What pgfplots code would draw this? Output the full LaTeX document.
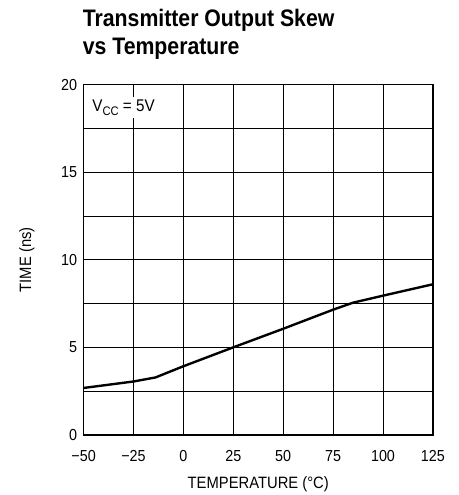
\documentclass[border=0pt]{standalone}
\usepackage{fontspec}
\setmainfont{Liberation Sans}[FakeStretch=0.9]
\newfontfamily\titlefont{Liberation Sans}[FakeStretch=0.89]
\usepackage{pgfplots}
\pgfplotsset{compat=1.18}
\begin{document}
\begin{tikzpicture}
\begin{axis}[name=ax,
  scale only axis, width=351bp, height=352bp,
  xmin=-50, xmax=125, ymin=0, ymax=20,
  xtick={-50,-25,...,125}, ytick={0,5,...,20},
  xticklabels={−50,−25,0,25,50,75,100,125},
  minor ytick={2.5,7.5,12.5,17.5},
  grid=both, major grid style={black, line width=0.8pt}, minor grid style={black, line width=0.8pt},
  tick style={draw=none},
  axis line style={line width=1.3pt},
  ticklabel style={font=\fontsize{16bp}{18bp}\selectfont},
  /pgf/number format/assume math mode=true,
  xticklabel style={yshift=-12bp},
  yticklabel style={xshift=-3bp},
  xlabel={TEMPERATURE (\textdegree C)}, ylabel={TIME (ns)},
  label style={font=\fontsize{16.5bp}{18bp}\selectfont},
  xlabel style={yshift=-8bp},
  ylabel style={yshift=20bp},
  clip=false,
]
\addplot[black, line width=2.4pt, line join=round] coordinates {
(-50,2.68) (-25,3.05) (-14,3.28) (0,3.92) (25,5.0) (50,6.06) (75,7.15) (85,7.55) (100,7.95) (125,8.6)
};
\node[fill=white, anchor=base west, inner xsep=2bp, inner ysep=3bp, font=\fontsize{17bp}{19bp}\selectfont] at (axis cs:-46.7,18.45) {V\raisebox{-3.5bp}{\fontsize{12.5bp}{14bp}\selectfont CC} = 5V};
\end{axis}
\node[anchor=south west, align=left, inner sep=0pt, font=\titlefont\bfseries\fontsize{24bp}{28bp}\selectfont] at ([xshift=-1bp,yshift=25bp]ax.north west) {Transmitter Output Skew\\vs Temperature};
\path (ax.south west) +(-84bp,-58bp) (ax.north east) +(26bp,85bp);
\end{tikzpicture}
\end{document}
